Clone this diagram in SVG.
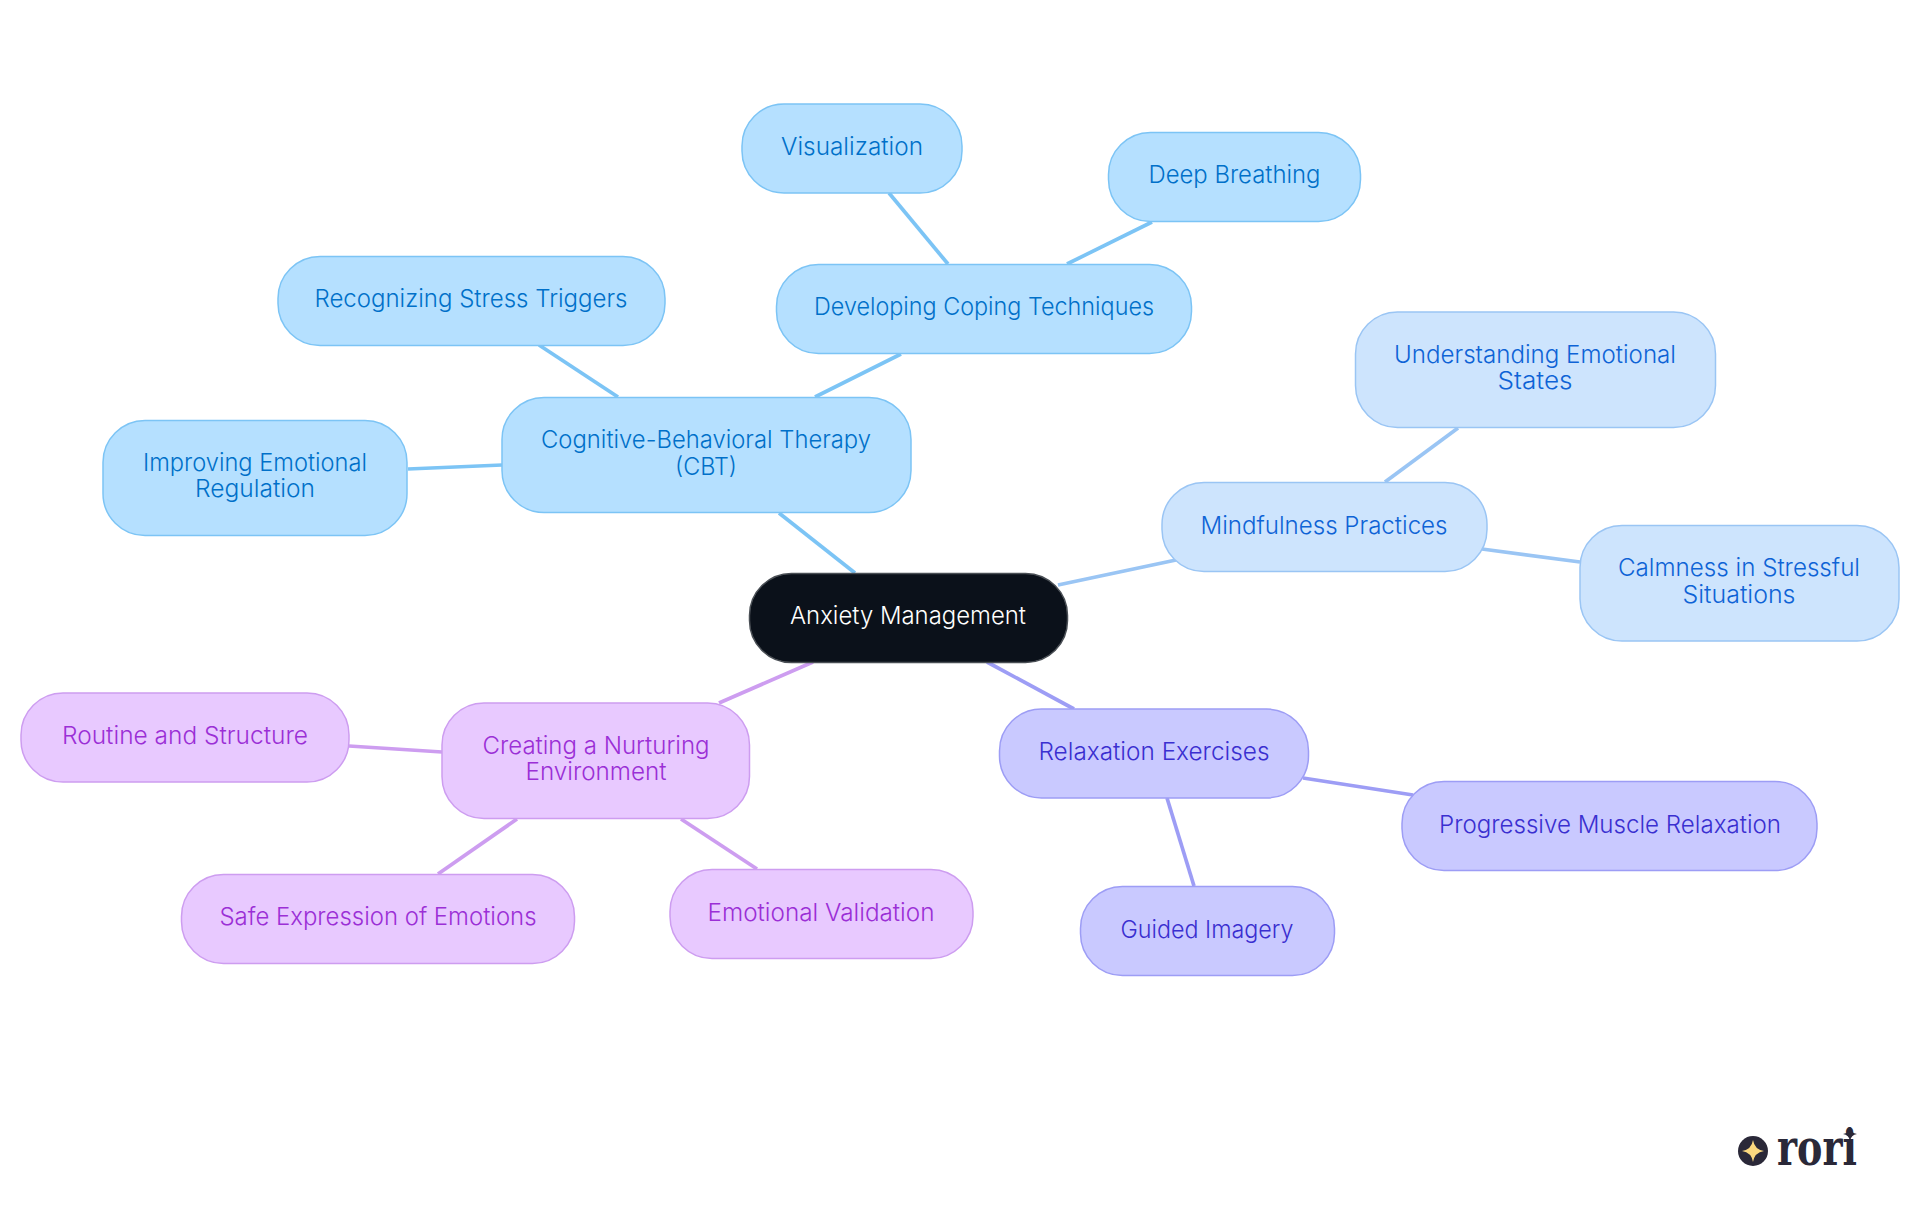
<svg xmlns="http://www.w3.org/2000/svg" width="1920" height="1215" viewBox="0 0 1920 1215">
<style>
text{font-family:"Inter","Noto Sans","Liberation Sans",sans-serif;font-size:24px;font-weight:300;text-anchor:middle}
.edge{fill:none;stroke-width:3.7}
.n{stroke-width:1.5}
.root rect{fill:#0b111a;stroke:#4a4f55}.root text{fill:#fff}
.cbt rect{fill:#b5e0ff;stroke:#7cc4f5}.cbt text{fill:#0070c9}
.mind rect{fill:#cde4fd;stroke:#9ac5f4}.mind text{fill:#0e63d6}
.rel rect{fill:#c9c9ff;stroke:#9d9df5}.rel text{fill:#3a2fd0}
.env rect{fill:#e8c9ff;stroke:#cd9df0}.env text{fill:#9b2fd6}
.e-cbt{stroke:#7cc4f5}.e-mind{stroke:#9ac5f4}.e-rel{stroke:#9d9df5}.e-env{stroke:#cd9df0}
</style>
<rect width="1920" height="1215" fill="#fff"/>
<g id="connectors">
<line class="edge e-cbt" x1="855" y1="573" x2="779" y2="513"/>
<line class="edge e-mind" x1="1058" y1="585" x2="1176" y2="560"/>
<line class="edge e-rel" x1="987" y1="662" x2="1074" y2="709"/>
<line class="edge e-env" x1="813" y1="662" x2="719" y2="703"/>
<line class="edge e-cbt" x1="618" y1="397" x2="539" y2="345"/>
<line class="edge e-cbt" x1="502" y1="465" x2="408" y2="469"/>
<line class="edge e-cbt" x1="815" y1="397" x2="901" y2="354"/>
<line class="edge e-cbt" x1="948" y1="264" x2="889" y2="193"/>
<line class="edge e-cbt" x1="1067" y1="264" x2="1152" y2="222"/>
<line class="edge e-mind" x1="1385" y1="482" x2="1458" y2="428"/>
<line class="edge e-mind" x1="1482" y1="549" x2="1580" y2="562"/>
<line class="edge e-rel" x1="1303" y1="778" x2="1413" y2="795"/>
<line class="edge e-rel" x1="1167" y1="798" x2="1194" y2="886"/>
<line class="edge e-env" x1="442" y1="752" x2="349" y2="746"/>
<line class="edge e-env" x1="517" y1="819" x2="438" y2="874"/>
<line class="edge e-env" x1="681" y1="819" x2="757" y2="869"/>
</g>
<g id="root" class="root"><rect class="n" x="749.500" y="573.500" width="318" height="89" rx="42"/><text x="908" y="624" textLength="236" lengthAdjust="spacingAndGlyphs">Anxiety Management</text></g>
<g id="cbt" class="cbt"><rect class="n" x="502" y="397.500" width="409" height="115" rx="42"/><text x="706" y="448" textLength="330" lengthAdjust="spacingAndGlyphs">Cognitive-Behavioral Therapy</text><text x="706" y="475" textLength="62" lengthAdjust="spacingAndGlyphs">(CBT)</text></g>
<g id="improving" class="cbt"><rect class="n" x="103" y="420.500" width="304" height="115" rx="42"/><text x="255" y="471" textLength="224" lengthAdjust="spacingAndGlyphs">Improving Emotional</text><text x="255" y="497" textLength="120" lengthAdjust="spacingAndGlyphs">Regulation</text></g>
<g id="recognizing" class="cbt"><rect class="n" x="278" y="256.500" width="387" height="89" rx="42"/><text x="471" y="307" textLength="313" lengthAdjust="spacingAndGlyphs">Recognizing Stress Triggers</text></g>
<g id="developing" class="cbt"><rect class="n" x="776.500" y="264.500" width="415" height="89" rx="42"/><text x="984" y="315" textLength="340" lengthAdjust="spacingAndGlyphs">Developing Coping Techniques</text></g>
<g id="visualization" class="cbt"><rect class="n" x="742" y="104" width="220" height="89" rx="42"/><text x="852" y="155" textLength="142" lengthAdjust="spacingAndGlyphs">Visualization</text></g>
<g id="breathing" class="cbt"><rect class="n" x="1108.500" y="132.500" width="252" height="89" rx="42"/><text x="1234.500" y="183" textLength="172" lengthAdjust="spacingAndGlyphs">Deep Breathing</text></g>
<g id="mindfulness" class="mind"><rect class="n" x="1162" y="482.500" width="325" height="89" rx="42"/><text x="1324" y="534" textLength="247" lengthAdjust="spacingAndGlyphs">Mindfulness Practices</text></g>
<g id="understanding" class="mind"><rect class="n" x="1355.500" y="312" width="360" height="115.500" rx="42"/><text x="1535" y="363" textLength="282" lengthAdjust="spacingAndGlyphs">Understanding Emotional</text><text x="1535" y="389" textLength="75" lengthAdjust="spacingAndGlyphs">States</text></g>
<g id="calmness" class="mind"><rect class="n" x="1580" y="525.500" width="319" height="115.500" rx="42"/><text x="1739" y="576" textLength="242" lengthAdjust="spacingAndGlyphs">Calmness in Stressful</text><text x="1739" y="603" textLength="113" lengthAdjust="spacingAndGlyphs">Situations</text></g>
<g id="relaxation" class="rel"><rect class="n" x="999.500" y="709" width="309" height="89" rx="42"/><text x="1154" y="760" textLength="231" lengthAdjust="spacingAndGlyphs">Relaxation Exercises</text></g>
<g id="progressive" class="rel"><rect class="n" x="1402" y="781.500" width="415" height="89" rx="42"/><text x="1610" y="833" textLength="342" lengthAdjust="spacingAndGlyphs">Progressive Muscle Relaxation</text></g>
<g id="guided" class="rel"><rect class="n" x="1080.500" y="886.500" width="254" height="89" rx="42"/><text x="1207" y="938" textLength="173" lengthAdjust="spacingAndGlyphs">Guided Imagery</text></g>
<g id="creating" class="env"><rect class="n" x="442" y="703" width="307.500" height="115.500" rx="42"/><text x="596" y="754" textLength="227" lengthAdjust="spacingAndGlyphs">Creating a Nurturing</text><text x="596" y="780" textLength="141" lengthAdjust="spacingAndGlyphs">Environment</text></g>
<g id="routine" class="env"><rect class="n" x="21" y="693" width="328" height="89" rx="42"/><text x="185" y="744" textLength="246" lengthAdjust="spacingAndGlyphs">Routine and Structure</text></g>
<g id="safe" class="env"><rect class="n" x="181.500" y="874.500" width="393" height="89" rx="42"/><text x="378" y="925" textLength="317" lengthAdjust="spacingAndGlyphs">Safe Expression of Emotions</text></g>
<g id="validation" class="env"><rect class="n" x="670" y="869.500" width="303" height="89" rx="42"/><text x="821" y="921" textLength="227" lengthAdjust="spacingAndGlyphs">Emotional Validation</text></g>
<g id="logo">
<circle cx="1753" cy="1151" r="15" fill="#2a2838"/>
<path d="M1753 1140q1.500 9.500 11 11q-9.500 1.500-11 11q-1.500-9.500-11-11q9.500-1.500 11-11z" fill="#fbd87f"/>
<text x="1817" y="1165" textLength="80" lengthAdjust="spacingAndGlyphs" style="font-family:'DejaVu Serif',serif;font-weight:700;font-size:50px;fill:#2a2838">rori</text>
<path d="M1850 1127q1 6 7 7q-6 1-7 7q-1-6-7-7q6-1 7-7z" fill="#2a2838"/>
</g>
</svg>
